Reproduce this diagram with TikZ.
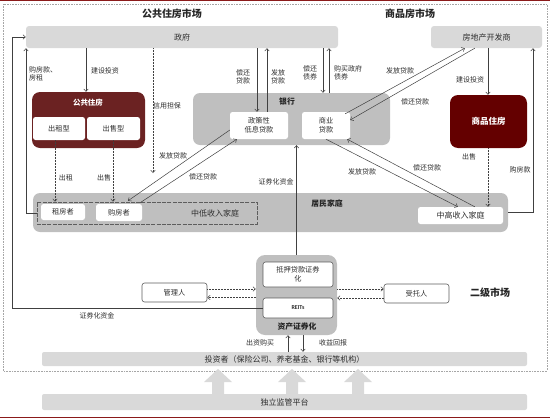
\documentclass[tikz,border=0pt]{standalone}
\usepackage{fontspec}
\setmainfont{Noto Sans CJK SC}
\newfontfamily\latinfont{Carlito}
\usetikzlibrary{arrows.meta}
\definecolor{lightbar}{HTML}{D9D9D9}
\definecolor{midgray}{HTML}{BFBFBF}
\definecolor{pubred}{HTML}{6B2222}
\definecolor{comred}{HTML}{640000}
\definecolor{linec}{HTML}{404040}
\definecolor{txt}{HTML}{2E2E2E}
\definecolor{edgered}{HTML}{8B1A1A}
\begin{document}
\begin{tikzpicture}[x=1pt,y=-1pt,
  lbl/.style={font=\fontsize{7}{8}\selectfont, text=txt, inner sep=0pt, align=center},
  bar/.style={fill=lightbar, rounded corners=3pt, inner sep=0pt, font=\fontsize{8}{9.5}\selectfont, text=txt},
  grp/.style={fill=midgray, rounded corners=7pt, inner sep=0pt},
  wbox/.style={fill=white, rounded corners=2.5pt, inner sep=0pt, font=\fontsize{7.2}{8.6}\selectfont, text=txt, align=center},
  obox/.style={wbox, draw=linec!85, line width=0.6pt},
  boldlbl/.style={font=\bfseries\fontsize{7.8}{9}\selectfont, text=black!85, inner sep=0pt},
  title/.style={font=\bfseries\fontsize{10}{11.5}\selectfont, text=black!85, inner sep=0pt},
  conn/.style={draw=linec, line width=0.5pt, -{Straight Barb[length=2.5pt,width=4.5pt]}},
  dconn/.style={conn, densely dotted},
]
\useasboundingbox (0,0) rectangle (550,418);
% frame
\draw[edgered, line width=0.8pt] (0,0.5) -- (550,0.5);
\draw[edgered, line width=1pt] (0,417) -- (550,417);
\draw[gray!70, densely dotted, line width=0.6pt] (3,4) rectangle (547,371);

% titles
\node[title] (t1) at (172,14) {公共住房市场};
\node[title] (t2) at (410,14) {商品房市场};
\node[title] (t3) at (490,293) {二级市场};

% top bars
\node[bar, minimum width=312pt, minimum height=22pt] (gov) at (182,37) {政府};
\node[bar, minimum width=111pt, minimum height=22pt] (dev) at (486.5,37) {房地产开发商};

% public housing
\node[fill=pubred, rounded corners=8pt, minimum width=113pt, minimum height=56pt, inner sep=0pt] (pub) at (88.5,120) {};
\node[font=\bfseries\fontsize{7.5}{8.5}\selectfont, text=white, inner sep=0pt] (pubt) at (88,103) {公共住房};
\node[wbox, minimum width=52pt, minimum height=23pt] (rtype) at (59,128.5) {出租型};
\node[wbox, minimum width=53pt, minimum height=23pt] (stype) at (113.5,128.5) {出售型};

% bank
\node[grp, minimum width=197pt, minimum height=52pt] (bank) at (291.5,119) {};
\node[boldlbl] (bankt) at (287,102) {银行};
\node[wbox, minimum width=58pt, minimum height=27pt] (policy) at (259,125.5) {政策性\\低息贷款};
\node[wbox, minimum width=48pt, minimum height=27pt] (comm) at (326,125.5) {商业\\贷款};

% commercial housing
\node[fill=comred, rounded corners=8pt, minimum width=77pt, minimum height=53pt, inner sep=0pt, text=white, font=\bfseries\fontsize{8.5}{9.5}\selectfont] (comh) at (488.5,121.5) {商品住房};

% residents
\node[grp, minimum width=475pt, minimum height=39pt] (res) at (270.5,212.5) {};
\node[boldlbl] (rest) at (327,203) {居民家庭};
\node[draw=linec!85, dash pattern=on 4pt off 1.2pt, line width=0.6pt, minimum width=220pt, minimum height=22pt, inner sep=0pt] (low) at (147,213) {};
\node[font=\fontsize{8}{9.5}\selectfont, text=txt, inner sep=0pt] (lowt) at (215,213) {中低收入家庭};
\node[wbox, minimum width=44pt, minimum height=16pt] (renter) at (63,212) {租房者};
\node[wbox, minimum width=46pt, minimum height=17pt] (buyer) at (119,212.5) {购房者};
\node[wbox, minimum width=85pt, minimum height=17pt, font=\fontsize{8}{9.5}\selectfont] (mid) at (460.5,215.5) {中高收入家庭};

% securitisation
\node[grp, rounded corners=9pt, minimum width=81pt, minimum height=80pt] (abs) at (296.5,295) {};
\node[boldlbl] (abst) at (297,327) {资产证券化};
\node[obox, minimum width=70pt, minimum height=25pt] (mbs) at (298,274.5) {抵押贷款证券\\化};
\node[obox, minimum width=70pt, minimum height=20pt, font=\latinfont\bfseries\fontsize{6}{7}\selectfont] (reits) at (298,308) {REITs};
\node[obox, minimum width=65pt, minimum height=19pt] (mgr) at (174.5,292.5) {管理人};
\node[obox, minimum width=65pt, minimum height=19pt] (trustee) at (416.5,293.5) {受托人};

% investors and regulator
\foreach \cx in {218,292,358}{
  \fill[lightbar] ({\cx-6},395) -- ({\cx-6},382) -- ({\cx-14},382) -- (\cx,369) -- ({\cx+14},382) -- ({\cx+6},382) -- ({\cx+6},395) -- cycle;
}
\node[bar, rounded corners=2pt, minimum width=485pt, minimum height=14pt] (inv) at (284.5,359) {投资者（保险公司、养老基金、银行等机构）};
\node[bar, rounded corners=2pt, minimum width=485pt, minimum height=16pt] (reg) at (284.5,402) {独立监管平台};

% connectors: government <-> bank
\draw[conn] (257,0 |- gov.south) -- (257,0 |- policy.north);
\draw[conn] (267,0 |- policy.north) -- (267,0 |- gov.south);
\draw[conn] (323,0 |- gov.south) -- (323,0 |- bank.north);
\draw[conn] (329,0 |- bank.north) -- (329,0 |- gov.south);
\draw[conn] (86,0 |- gov.south) -- (86,0 |- pub.north);
\coordinate (credit) at (153,173);
\draw[dconn] (153,0 |- gov.south) -- (credit);
\draw[conn] (low.west) -- (26,0 |- low.west) -- (26,0 |- gov.south);
\draw[conn] (reits.west) -- (12,0 |- reits.west) -- (12,0 |- gov.west) -- (gov.west);

% public housing -> households
\draw[dconn] (55,0 |- rtype.south) -- (55,0 |- low.north);
\draw[dconn] (113,0 |- stype.south) -- (113,0 |- low.north);

% policy loans <-> buyers
\draw[conn] ([shift={(0,4.5)}]policy.west) -- ([shift={(9,-3)}]buyer.north);
\draw[conn] ([shift={(21,-1)}]buyer.north) -- ([shift={(7,0)}]policy.south west);

% commercial loans <-> mid-high income
\draw[conn] (comm.south) -- ([shift={(40,0)}]mid.north west);
\draw[conn] ([shift={(57,0)}]mid.north west) -- ([shift={(-3,0)}]comm.south east);

% commercial loans <-> developer
\draw[conn] ([shift={(-5,2)}]comm.north east) -- ([shift={(34,0)}]dev.south west);
\draw[conn] ([shift={(44,0)}]dev.south west) -- ([shift={(0,-5.5)}]comm.east);

% developer / commercial housing
\draw[conn] (488,0 |- dev.south) -- (488,0 |- comh.north);
\draw[dconn] (488,0 |- comh.south) -- (488,0 |- mid.north);
\draw[conn] (res.east) -- (533,0 |- res.east) -- (533,0 |- dev.south);

% securitisation
\draw[conn] (abs.north) -- (abs.north |- bank.south);
\coordinate (m1) at ([shift={(0,-3.5)}]mgr.east);
\coordinate (m2) at ([shift={(0,5)}]mgr.east);
\draw[dconn] (m1) -- (m1 -| abs.west);
\draw[dconn] (m2 -| abs.west) -- (m2);
\coordinate (u1) at ([shift={(0,-4.5)}]trustee.west);
\coordinate (u2) at ([shift={(0,4.5)}]trustee.west);
\draw[dconn] (u1 -| abs.east) -- (u1);
\draw[dconn] (u2) -- (u2 -| abs.east);
\draw[conn] (288,0 |- inv.north) -- (288,0 |- abs.south);
\draw[conn] (303,0 |- abs.south) -- (303,0 |- inv.north);

% labels
\node[lbl, align=left, anchor=west] (l1) at (29,73.5) {购房款、\\房租};
\node[lbl] (l2) at (105,71) {建设投资};
\node[lbl] (l3) at (167,106) {信用担保};
\node[lbl] (l4) at (243,77) {偿还\\贷款};
\node[lbl] (l5) at (278,77) {发放\\贷款};
\node[lbl] (l6) at (310,73) {偿还\\债券};
\node[lbl, align=left, anchor=west] (l7) at (334,73) {购买政府\\债券};
\node[lbl] (l8) at (400,71) {发放贷款};
\node[lbl] (l9) at (415,102) {偿还贷款};
\node[lbl] (l10) at (470,80) {建设投资};
\node[lbl] (l11) at (66,178) {出租};
\node[lbl] (l12) at (104,178) {出售};
\node[lbl] (l13) at (173,156) {发放贷款};
\node[lbl] (l14) at (203,177) {偿还贷款};
\node[lbl] (l15) at (276,182) {证券化资金};
\node[lbl] (l16) at (362,172) {发放贷款};
\node[lbl] (l17) at (427,168) {偿还贷款};
\node[lbl] (l18) at (469,157) {出售};
\node[lbl] (l19) at (520,170) {购房款};
\node[lbl] (l20) at (97,316) {证券化资金};
\node[lbl] (l21) at (260,343) {出资购买};
\node[lbl] (l22) at (333,343) {收益回报};
\end{tikzpicture}
\end{document}
